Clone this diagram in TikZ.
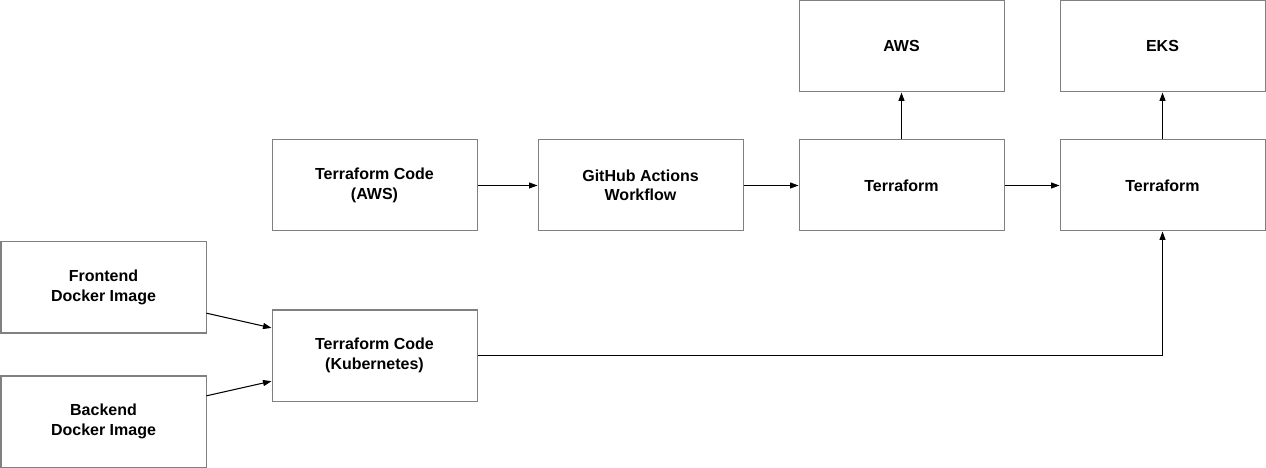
\documentclass[tikz,border=0pt]{standalone}
\usepackage{fontspec}
\setmainfont{Liberation Sans}
\usepackage{xcolor}
\usepackage{tikz}
\usetikzlibrary{arrows.meta}
\definecolor{box_gray}{RGB}{128,128,128}
\tikzset{ proc_box/.style = {rectangle, draw=box_gray, line width=0.57pt, minimum width=4.1cm, minimum height=1.82cm, align=center, font=\fontsize{9.1}{11.1}\selectfont\bfseries} }
\tikzset{ flow_arrow/.style = {line width=0.6pt, -{Triangle[length=0.17cm,width=0.12cm]}} }

\begin{document}
\begin{tikzpicture}
        \useasboundingbox (0,0) rectangle (25.32,-9.36);
        \node[proc_box] (AWS) at (18.03,-0.93) {AWS};
        \node[proc_box] (EKS) at (23.25,-0.93) {EKS};
        \node[proc_box] (TCA) at (7.49,-3.71) {Terraform Code\\(AWS)};
        \node[proc_box] (GHA) at (12.81,-3.71) {GitHub Actions\\Workflow};
        \node[proc_box] (TF1) at (18.03,-3.71) {Terraform};
        \node[proc_box] (TF2) at (23.25,-3.71) {Terraform};
        \node[proc_box] (FE) at (2.07,-5.75) {Frontend\\Docker Image};
        \node[proc_box] (TCK) at (7.49,-7.11) {Terraform Code\\(Kubernetes)};
        \node[proc_box] (BE) at (2.07,-8.43) {Backend\\Docker Image};
        \draw[flow_arrow] (TCA) -- (GHA);
        \draw[flow_arrow] (GHA) -- (TF1);
        \draw[flow_arrow] (TF1) -- (TF2);
        \draw[flow_arrow] (TF1) -- (AWS);
        \draw[flow_arrow] (TF2) -- (EKS);
        \draw[flow_arrow] (FE.-14) -- (TCK.165.5);
        \draw[flow_arrow] (BE.14) -- (TCK.194);
        \draw[flow_arrow] (TCK.east) -| (TF2.south);
\end{tikzpicture}
\end{document}
